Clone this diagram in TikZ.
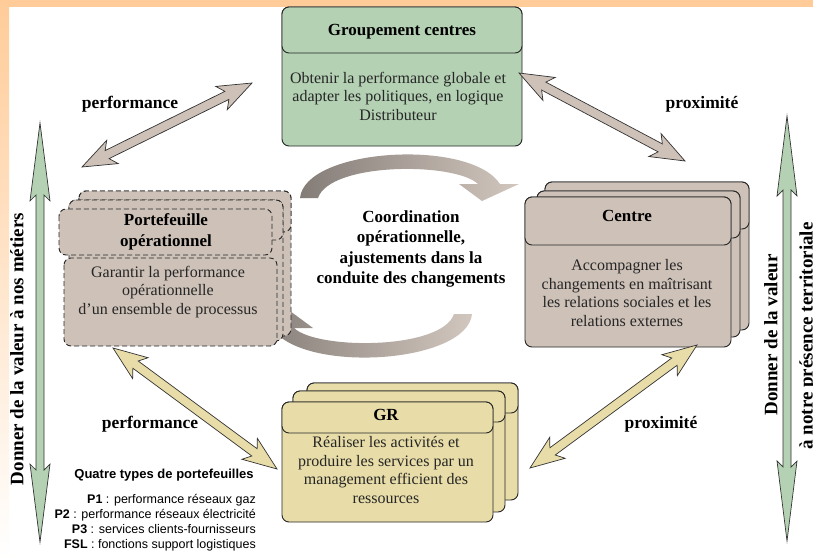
\documentclass[tikz,border=0pt]{standalone}
\usepackage{fontspec}
\setmainfont{Liberation Serif}
\newfontfamily\legendfont{Liberation Sans}
\usetikzlibrary{calc}

\definecolor{bgorange}{RGB}{255,204,153}
\definecolor{grpgreen}{RGB}{180,209,180}
\definecolor{taupe}{RGB}{205,193,184}
\definecolor{khaki}{RGB}{232,221,168}
\definecolor{curvedark}{RGB}{132,124,119}
\definecolor{curvelight}{RGB}{210,199,190}

% fleche double pleine : depart, arrivee, couleur, long. tete, demi-larg. tete, demi-larg. corps
\newcommand{\dblarrow}[6]{%
  \draw[fill=#3, draw=black!80, line width=0.7pt, line join=miter]
    let \p1=($(#2)-(#1)$), \n1={atan2(\y1,\x1)}, \n2={veclen(\x1,\y1)} in
    [shift={(#1)}, rotate=\n1]
    (0,0) -- (#4,#5) -- ({#4-6},#6) -- ({\n2-#4+6},#6) -- ({\n2-#4},#5) -- (\n2,0)
    -- ({\n2-#4},-#5) -- ({\n2-#4+6},-#6) -- ({#4-6},-#6) -- (#4,-#5) -- cycle;}

\begin{document}
\begin{tikzpicture}[x=1pt, y=-1pt,
  every node/.style={inner sep=0pt, align=center},
  layer/.style={draw=black!85, line width=0.9pt, rounded corners=7pt},
  dashlayer/.style={layer, dash pattern=on 5pt off 3pt},
  titre/.style={font=\bfseries\fontsize{17}{20.5}\selectfont},
  corps/.style={font=\fontsize{16}{18.5}\selectfont, text=black!85},
  lien/.style={font=\bfseries\fontsize{17.5}{20}\selectfont},
  vtexte/.style={font=\bfseries\fontsize{19}{22}\selectfont, rotate=90}]

\useasboundingbox (0,0) rectangle (813,559);

% =============================================
% FOND
% =============================================
\fill[white] (0,0) rectangle (813,559);
\fill[bgorange] (0,0) rectangle (813,7);
\shade[top color=bgorange, bottom color=white] (0,0) rectangle (9,559);

% =============================================
% FLECHES COURBES (coordination)
% =============================================
\shade[left color=curvedark, right color=curvelight]
  (300,198) .. controls (305,148) and (470,138) .. (500,184)
  -- (519,184) -- (482,201) -- (459,184) -- (478,184)
  .. controls (455,162) and (330,162) .. (318,198) -- cycle;
\shade[left color=curvedark, right color=curvelight, rotate around={180:(386,256)}]
  (300,198) .. controls (305,148) and (470,138) .. (500,184)
  -- (519,184) -- (482,201) -- (459,184) -- (478,184)
  .. controls (455,162) and (330,162) .. (318,198) -- cycle;

\node[titre] (coord) at (411,249) {Coordination\\opérationnelle,\\ajustements dans la\\conduite des changements};

% =============================================
% GROUPEMENT CENTRES
% =============================================
\draw[layer, fill=grpgreen] (282,7) rectangle (522,146);
\draw[layer, fill=grpgreen] (282,7) rectangle (522,53);
\node[titre] (grpt) at (402,32) {Groupement centres};
\node[corps] (grpb) at (398,96) {Obtenir la performance globale et\\adapter les politiques, en logique\\Distributeur};

% =============================================
% PORTEFEUILLE OPERATIONNEL (pointilles)
% =============================================
\draw[dashlayer, fill=taupe] (79,191) rectangle (291,336);
\draw[dashlayer, fill=taupe] (79,191) rectangle (291,232);
\draw[dashlayer, fill=taupe] (69,200) rectangle (283,341);
\draw[dashlayer, fill=taupe] (69,200) rectangle (283,240);
\draw[dashlayer, fill=taupe] (64,258) rectangle (277,346);
\draw[dashlayer, fill=taupe] (59,209) rectangle (272,255);
\node[titre] (pft) at (166,232) {Portefeuille\\opérationnel};
\node[corps] (pfb) at (168,292) {Garantir la performance\\opérationnelle\\d’un ensemble de processus};

% =============================================
% CENTRE
% =============================================
\draw[layer, fill=taupe] (545,182) rectangle (749,330);
\draw[layer, fill=taupe] (545,182) rectangle (749,229);
\draw[layer, fill=taupe] (537,191) rectangle (740,337);
\draw[layer, fill=taupe] (537,191) rectangle (740,238);
\draw[layer, fill=taupe] (525,197) rectangle (731,347);
\draw[layer, fill=taupe] (525,197) rectangle (731,245);
\node[titre] (cet) at (627,216) {Centre};
\node[corps] (ceb) at (627,293) {Accompagner les\\changements en maîtrisant\\les relations sociales et les\\relations externes};

% =============================================
% GR
% =============================================
\draw[layer, fill=khaki] (307,383) rectangle (518,500);
\draw[layer, fill=khaki] (307,383) rectangle (518,413);
\draw[layer, fill=khaki] (293,391) rectangle (505,512);
\draw[layer, fill=khaki] (293,391) rectangle (505,422);
\draw[layer, fill=khaki] (282,402) rectangle (493,522);
\draw[layer, fill=khaki] (282,402) rectangle (493,433);
\node[titre] (grt) at (386,415) {GR};
\node[corps] (grb) at (386,470) {Réaliser les activités et\\produire les services par un\\management efficient des\\ressources};

% =============================================
% FLECHES PERFORMANCE / PROXIMITE
% =============================================
\coordinate (pfa) at (82,167);   \coordinate (pfb2) at (252,83);
\coordinate (pxa) at (519,73);   \coordinate (pxb) at (685,161);
\coordinate (pfc) at (113,348);  \coordinate (pfd) at (277,469);
\coordinate (pxc) at (530,468);  \coordinate (pxd) at (697,345);
\dblarrow{pfa}{pfb2}{taupe}{34}{13}{4.5}
\dblarrow{pxa}{pxb}{taupe}{34}{13}{4.5}
\dblarrow{pfc}{pfd}{khaki}{34}{13}{4.5}
\dblarrow{pxc}{pxd}{khaki}{34}{13}{4.5}

\node[lien] (lpf1) at (130,104) {performance};
\node[lien] (lpx1) at (702,104) {proximité};
\node[lien] (lpf2) at (150,424) {performance};
\node[lien] (lpx2) at (661,424) {proximité};

% =============================================
% AXES VERTICAUX
% =============================================
\coordinate (vla) at (40,123);  \coordinate (vlb) at (40,542);
\coordinate (vra) at (787,116); \coordinate (vrb) at (787,541);
\dblarrow{vla}{vlb}{grpgreen}{78}{10}{4}
\dblarrow{vra}{vrb}{grpgreen}{80}{10}{4}

\node[vtexte] (vl) at (17,349) {Donner de la valeur à nos métiers};
\node[vtexte] (vr) at (771,335) {Donner de la valeur};
\node[vtexte] (vr2) at (808,336) {à notre présence territoriale};

% =============================================
% LEGENDE
% =============================================
\node[font=\legendfont\bfseries\fontsize{13}{15}\selectfont] (leg) at (164,475) {Quatre types de portefeuilles};
\node[font=\legendfont\fontsize{12.5}{15}\selectfont, align=right, anchor=north east] (legl) at (256,494)
  {\textbf{P1} : performance réseaux gaz\\\textbf{P2} : performance réseaux électricité\\\textbf{P3} : services clients-fournisseurs\\\textbf{FSL} : fonctions support logistiques};

\end{tikzpicture}
\end{document}
